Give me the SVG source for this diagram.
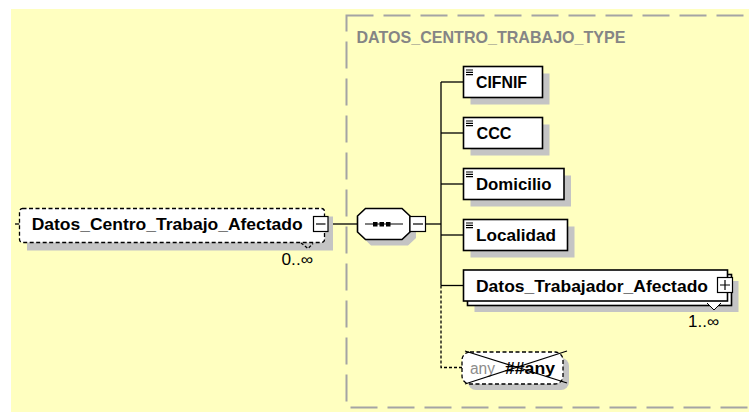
<svg xmlns="http://www.w3.org/2000/svg" width="749" height="412" viewBox="0 0 749 412">
<defs>
<style>
.bg{fill:#ffffc0}
.frame{fill:none;stroke:#a4a4a4;stroke-width:2;stroke-dasharray:27 10}
.title{font-family:"Liberation Sans",Arial,sans-serif;font-weight:bold;font-size:16.5px;fill:#858585}
.shadow{fill:#c4c4c4;stroke:none}
.box{fill:#ffffff;stroke:#000000;stroke-width:1.6}
.dbox{fill:#ffffff;stroke:#000000;stroke-width:1.3;stroke-dasharray:4 2.5}
.lbl{font-family:"Liberation Sans",Arial,sans-serif;font-weight:bold;font-size:17px;fill:#000000}
.occ{font-family:"Liberation Sans",Arial,sans-serif;font-size:16px;fill:#000000}
.ico{fill:#ffffff;stroke:#000000;stroke-width:1.2}
.line{fill:none;stroke:#000000;stroke-width:1.3}
.dot{fill:none;stroke:#000000;stroke-width:1.3;stroke-dasharray:3 2}
.fl{stroke:#000000;stroke-width:1.2}
</style>
</defs>
<rect class="bg" x="11" y="9" width="738" height="403"/>
<g id="type-frame">
<rect class="frame" x="346.5" y="15.5" width="430" height="392"/>
<text class="title" x="356.5" y="42.5" textLength="269" lengthAdjust="spacingAndGlyphs">DATOS_CENTRO_TRABAJO_TYPE</text>
</g>
<g id="connectors">
<line class="line" x1="15" y1="224" x2="19.5" y2="224"/>
<line class="line" x1="328" y1="224" x2="357.5" y2="224"/>
<line class="line" x1="426" y1="224" x2="441" y2="224"/>
<line class="line" x1="441" y1="82" x2="441" y2="285.5"/>
<line class="line" x1="441" y1="82" x2="463.5" y2="82"/>
<line class="line" x1="441" y1="133" x2="463.5" y2="133"/>
<line class="line" x1="441" y1="184" x2="463.5" y2="184"/>
<line class="line" x1="441" y1="235" x2="463.5" y2="235"/>
<line class="line" x1="441" y1="285.5" x2="463.5" y2="285.5"/>
<polyline class="dot" points="441,285.5 441,367.5 462,367.5"/>
</g>
<g id="Datos_Centro_Trabajo_Afectado">
<rect class="shadow" x="27" y="216.5" width="306" height="34"/>
<rect class="dbox" x="19.5" y="208.5" width="305" height="34" rx="3"/>
<text class="lbl" x="31.7" y="230" textLength="271" lengthAdjust="spacingAndGlyphs">Datos_Centro_Trabajo_Afectado</text>
<rect class="ico" x="313.5" y="216.5" width="14.5" height="15"/>
<line class="fl" x1="316" y1="224" x2="325.5" y2="224"/>
<polyline class="dot" points="301,243 308,248.5 313,243.5"/>
<text class="occ" x="281.5" y="265" textLength="31.5" lengthAdjust="spacingAndGlyphs">0..∞</text>
</g>
<g id="sequence">
<path class="shadow" d="M371,214.5 L408,214.5 L416,222 L416,238 L408,245.5 L371,245.5 L363.5,238 L363.5,222 Z"/>
<path class="box" d="M365.5,208.5 L402,208.5 L410,216 L410,232 L402,239.5 L365.5,239.5 L357.5,232 L357.5,216 Z"/>
<line class="fl" x1="365" y1="224" x2="403" y2="224"/>
<rect x="373" y="222" width="4.5" height="4.5" fill="#000"/>
<rect x="379.5" y="222" width="4.5" height="4.5" fill="#000"/>
<rect x="386" y="222" width="4.5" height="4.5" fill="#000"/>
<rect class="ico" x="410" y="216.5" width="15.5" height="15"/>
<line class="fl" x1="413" y1="224" x2="423" y2="224"/>
</g>
<g id="CIFNIF">
<rect class="shadow" x="470.5" y="73.5" width="79" height="31"/>
<rect class="box" x="463.5" y="66.5" width="79" height="31"/>
<path class="fl" d="M466,70h7M466,72.3h7M466,74.6h7"/>
<text class="lbl" x="476" y="88" textLength="51" lengthAdjust="spacingAndGlyphs">CIFNIF</text>
</g>
<g id="CCC">
<rect class="shadow" x="470.5" y="124.5" width="79" height="31"/>
<rect class="box" x="463.5" y="117.5" width="79" height="31"/>
<path class="fl" d="M466,121h7M466,123.3h7M466,125.6h7"/>
<text class="lbl" x="476.5" y="139" textLength="35" lengthAdjust="spacingAndGlyphs">CCC</text>
</g>
<g id="Domicilio">
<rect class="shadow" x="470.5" y="175.5" width="100.5" height="31"/>
<rect class="box" x="463.5" y="168.5" width="100.5" height="31"/>
<path class="fl" d="M466,172h7M466,174.3h7M466,176.6h7"/>
<text class="lbl" x="476" y="190" textLength="75.5" lengthAdjust="spacingAndGlyphs">Domicilio</text>
</g>
<g id="Localidad">
<rect class="shadow" x="470.5" y="226.5" width="104" height="31"/>
<rect class="box" x="463.5" y="219.5" width="104" height="31"/>
<path class="fl" d="M466,223h7M466,225.3h7M466,227.6h7"/>
<text class="lbl" x="476" y="241" textLength="80" lengthAdjust="spacingAndGlyphs">Localidad</text>
</g>
<g id="Datos_Trabajador_Afectado">
<rect class="shadow" x="474.5" y="281" width="264" height="31"/>
<rect class="box" x="467.5" y="274.5" width="264" height="31"/>
<rect class="box" x="463.5" y="270" width="264" height="31"/>
<text class="lbl" x="476" y="292" textLength="232" lengthAdjust="spacingAndGlyphs">Datos_Trabajador_Afectado</text>
<rect class="ico" x="717.5" y="277.5" width="15" height="15"/>
<path class="fl" d="M720,285h10M725,280v10"/>
<polyline points="707,303 714,310 721,303" fill="#ffffff" stroke="#000" stroke-width="1"/>
<text class="occ" x="688" y="327" textLength="31" lengthAdjust="spacingAndGlyphs">1..∞</text>
</g>
<g id="any">
<rect class="shadow" x="468" y="358" width="101" height="32" rx="8"/>
<rect class="dbox" x="462" y="352" width="101" height="32" rx="8"/>
<text x="470" y="374" font-family="'Liberation Sans',Arial,sans-serif" font-size="16" fill="#8c8c8c" textLength="25" lengthAdjust="spacingAndGlyphs">any</text>
<text class="lbl" x="505" y="374" font-size="16" textLength="50" lengthAdjust="spacingAndGlyphs">##any</text>
<line class="fl" x1="465" y1="351" x2="567" y2="383"/>
<line class="fl" x1="465" y1="384" x2="567" y2="351"/>
</g>
</svg>
